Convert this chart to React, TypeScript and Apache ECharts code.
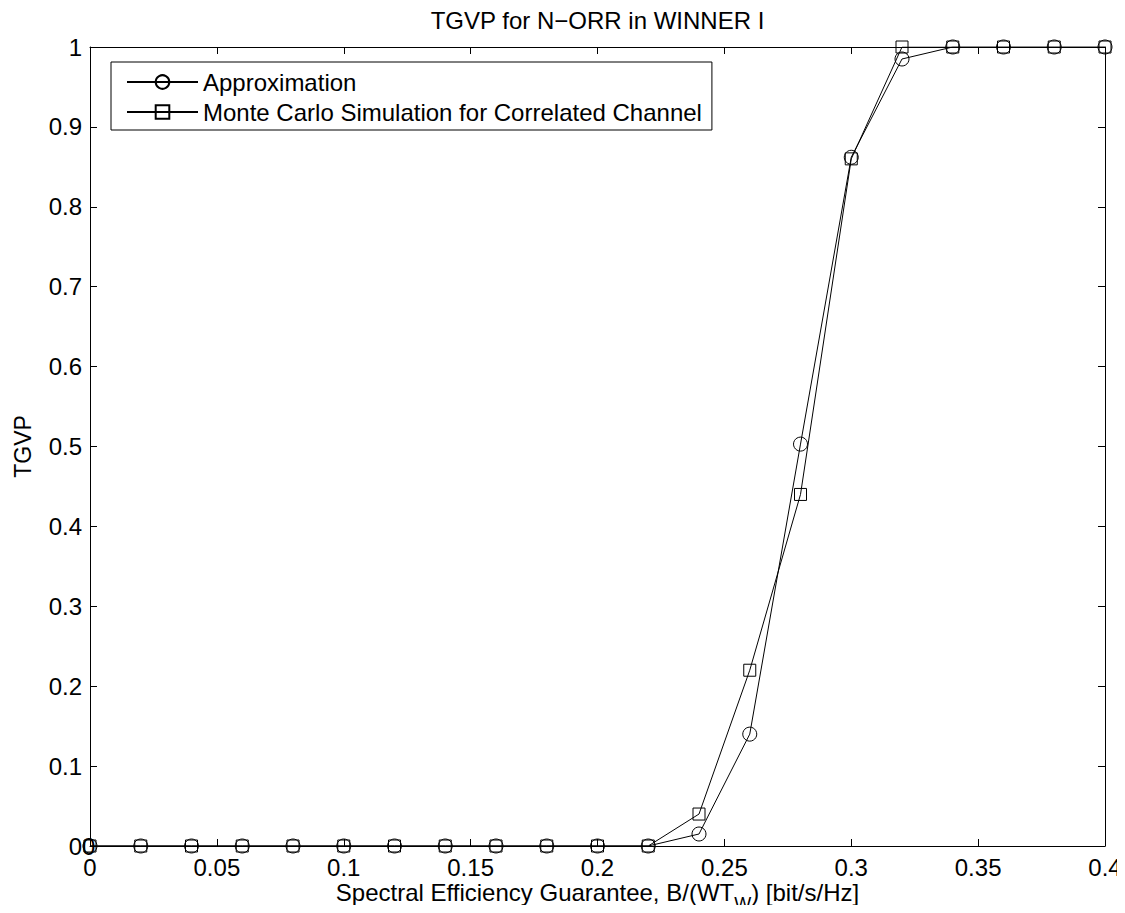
import React, { useEffect, useRef } from "react";
import * as echarts from "echarts";

const xValues = [0, 0.02, 0.04, 0.06, 0.08, 0.1, 0.12, 0.14, 0.16, 0.18, 0.2, 0.22, 0.24, 0.26, 0.28, 0.3, 0.32, 0.34, 0.36, 0.38, 0.4];
const approximation = [0, 0, 0, 0, 0, 0, 0, 0, 0, 0, 0, 0, 0.015, 0.14, 0.503, 0.862, 0.985, 1, 1, 1, 1];
const monteCarlo = [0, 0, 0, 0, 0, 0, 0, 0, 0, 0, 0, 0, 0.04, 0.22, 0.44, 0.86, 1, 1, 1, 1, 1];
const seriesNames = ["Approximation", "Monte Carlo Simulation for Correlated Channel"];
const titleText = "TGVP for N\u2212ORR in WINNER I";
const yName = "TGVP";
const xNameParts = ["Spectral Efficiency Guarantee, B/(WT", "W", ") [bit/s/Hz]"];

const FONT_NAME = "Liberation Sans";
const FONT = "'Liberation Sans', Arial, Helvetica, sans-serif";
const MAIN_SIZE = 24;
const SUB_SIZE = 18;

export default function App() {
  const ref = useRef<HTMLDivElement>(null);
  useEffect(() => {
    if (!ref.current) return;
    const chart = echarts.init(ref.current, null, { renderer: "svg" });
    const mk = (ys: number[]) => xValues.map((x, i) => [x, ys[i]]);
    const axisCommon = {
      axisLine: { show: true, onZero: false, lineStyle: { color: "#000", width: 1 } },
      axisTick: { show: true, inside: true, length: 7, lineStyle: { color: "#000", width: 1 } },
      splitLine: { show: false },
    };
    const fmt = (v: number) => String(parseFloat(v.toFixed(2)));

    // measure x-axis name pieces to lay out the subscript
    const cv = document.createElement("canvas").getContext("2d")!;
    cv.font = `${MAIN_SIZE}px "${FONT_NAME}"`;
    const w1 = cv.measureText(xNameParts[0]).width;
    const w3 = cv.measureText(xNameParts[2]).width;
    cv.font = `${SUB_SIZE}px "${FONT_NAME}"`;
    const w2 = cv.measureText(xNameParts[1]).width;
    const total = w1 + w2 + w3;
    const cx = 597.5;
    const x0 = cx - total / 2;

    chart.setOption({
      animation: false,
      backgroundColor: "#fff",
      textStyle: { fontFamily: FONT },
      grid: { left: 90, right: 20, top: 47, bottom: 67, containLabel: false, outerBoundsMode: "none" },
      graphic: [
        {
          type: "text",
          x: 597.5,
          y: 20.5,
          style: { text: titleText, fontSize: 24, fontFamily: FONT, fill: "#000", align: "center", verticalAlign: "middle" },
        },
        {
          type: "text",
          x: 82,
          y: 846,
          style: { text: "0", fontSize: 24, fontFamily: FONT, fill: "#000", align: "left", verticalAlign: "middle" },
        },
        {
          type: "text",
          x: x0,
          y: 892,
          style: { text: xNameParts[0], fontSize: MAIN_SIZE, fontFamily: FONT, fill: "#000", align: "left", verticalAlign: "middle" },
        },
        {
          type: "text",
          x: x0 + w1,
          y: 904,
          style: { text: xNameParts[1], fontSize: SUB_SIZE, fontFamily: FONT, fill: "#000", align: "left", verticalAlign: "middle" },
        },
        {
          type: "text",
          x: x0 + w1 + w2,
          y: 892,
          style: { text: xNameParts[2], fontSize: MAIN_SIZE, fontFamily: FONT, fill: "#000", align: "left", verticalAlign: "middle" },
        },
      ],
      legend: {
        left: 111,
        top: 62,
        orient: "vertical",
        data: seriesNames,
        itemWidth: 71,
        itemHeight: 17,
        itemGap: 6,
        padding: [8, 10, 6, 15],
        borderColor: "#000",
        borderWidth: 1,
        backgroundColor: "#fff",
        textStyle: { fontSize: 24, fontFamily: FONT, color: "#000", lineHeight: 24 },
        selectedMode: false,
      },
      xAxis: [
        {
          type: "value",
          min: 0,
          max: 0.4,
          interval: 0.05,
          position: "bottom",
          ...axisCommon,
          axisLabel: { color: "#000", fontSize: 24, fontFamily: FONT, margin: 9, formatter: fmt },
        },
        {
          type: "value",
          min: 0,
          max: 0.4,
          interval: 0.05,
          position: "top",
          ...axisCommon,
          axisLabel: { show: false },
        },
      ],
      yAxis: [
        {
          type: "value",
          min: 0,
          max: 1,
          interval: 0.1,
          position: "left",
          ...axisCommon,
          axisLabel: { color: "#000", fontSize: 24, fontFamily: FONT, margin: 8, formatter: fmt },
          name: yName,
          nameLocation: "middle",
          nameGap: 56,
          nameTextStyle: { color: "#000", fontSize: 23, fontFamily: FONT },
        },
        {
          type: "value",
          min: 0,
          max: 1,
          interval: 0.1,
          position: "right",
          ...axisCommon,
          axisLabel: { show: false },
        },
      ],
      series: [
        {
          name: seriesNames[0],
          type: "line",
          data: mk(approximation),
          symbol: "circle",
          symbolSize: 14,
          showAllSymbol: true,
          lineStyle: { color: "#000", width: 1 },
          itemStyle: { color: "rgba(255,255,255,0)", borderColor: "#000", borderWidth: 1 },
          emphasis: { disabled: true },
          z: 3,
        },
        {
          name: seriesNames[1],
          type: "line",
          data: mk(monteCarlo),
          symbol: "rect",
          symbolSize: 12,
          showAllSymbol: true,
          lineStyle: { color: "#000", width: 1 },
          itemStyle: { color: "rgba(255,255,255,0)", borderColor: "#000", borderWidth: 1 },
          emphasis: { disabled: true },
          z: 3,
        },
      ],
    });
    return () => chart.dispose();
  }, []);
  return <div ref={ref} style={{ width: 1125, height: 913, margin: -8 }} />;
}
